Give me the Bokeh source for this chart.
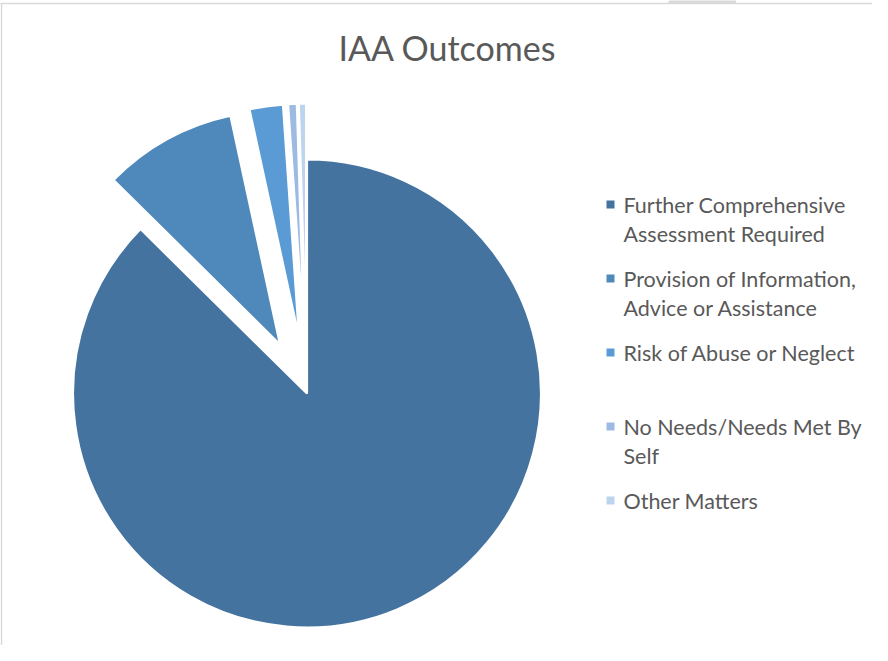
import numpy as np
from bokeh.plotting import figure
from bokeh.models import ColumnDataSource, Range1d
from bokeh.core.properties import value
from bokeh.embed import file_html
from bokeh.resources import INLINE

# ---- data ----
title = "IAA Outcomes"
categories = [
    "Further Comprehensive\nAssessment Required",
    "Provision of Information,\nAdvice or Assistance",
    "Risk of Abuse or Neglect",
    "No Needs/Needs Met By\nSelf",
    "Other Matters",
]
values = [87.4, 9.2, 2.3, 0.6, 0.5]
colors = ["#44739f", "#4f89bb", "#5b9bd5", "#9dbbe2", "#bdd4ee"]
explode = [0, 56, 56, 56, 56]

W, H = 872, 645

def X(px):
    return px - 8

def Y(py):
    return 653 - py

p = figure(width=W, height=H, output_backend="svg", toolbar_location=None,
           x_range=Range1d(0, W), y_range=Range1d(0, H), min_border=0)
p.axis.visible = False
p.grid.visible = False
p.outline_line_color = None
p.background_fill_color = "white"
p.border_fill_color = "white"

# chart frame (light gray border lines) and page decoration
p.patch([X(675), X(679), X(742), X(744)], [Y(11), Y(4), Y(4), Y(11)],
        fill_color="#d9d9d9", line_color=None)
p.line([X(5), X(888)], [Y(11), Y(11)], line_color="#d9d9d9", line_width=1.5)
p.line([X(9), X(9)], [Y(11), Y(661)], line_color="#d9d9d9", line_width=1.5)

# ---- pie ----
cx, cy, R = X(314.5), Y(401), 234
frac = np.array(values) / sum(values)
cum_end = np.cumsum(frac)
cum_start = cum_end - frac
start = np.pi / 2 - 2 * np.pi * cum_end
end = np.pi / 2 - 2 * np.pi * cum_start
mid = (start + end) / 2
ex = np.array(explode, dtype=float)
src = ColumnDataSource(dict(
    x=cx + ex * np.cos(mid), y=cy + ex * np.sin(mid),
    start=start, end=end, color=colors,
))
p.wedge(x="x", y="y", radius=R, start_angle="start", end_angle="end",
        fill_color="color", line_color="white", line_width=2.2, source=src)

# ---- title ----
p.text(x=[X(455)], y=[Y(55)], text=[title], text_font=value("Lato"),
       text_font_size="34px", text_color="#595959",
       text_align="center", text_baseline="middle")

# ---- legend ----
mx, tx = X(618), X(631)
lx, ly, ltxt = [], [], []
sx, sy = [], []
for i, lab in enumerate(categories):
    yc = 212 + 74 * i
    sx.append(mx)
    sy.append(Y(yc))
    for j, line in enumerate(lab.split("\n")):
        lx.append(tx)
        ly.append(Y(yc + 29 * j))
        ltxt.append(line)
p.rect(x=sx, y=sy, width=8, height=8, fill_color=colors, line_color=None)
p.text(x=lx, y=ly, text=ltxt, text_font=value("Lato"), text_font_size="21.5px",
       text_color="#595959", text_align="left", text_baseline="middle")

open("out.html", "w").write(file_html(p, INLINE))
